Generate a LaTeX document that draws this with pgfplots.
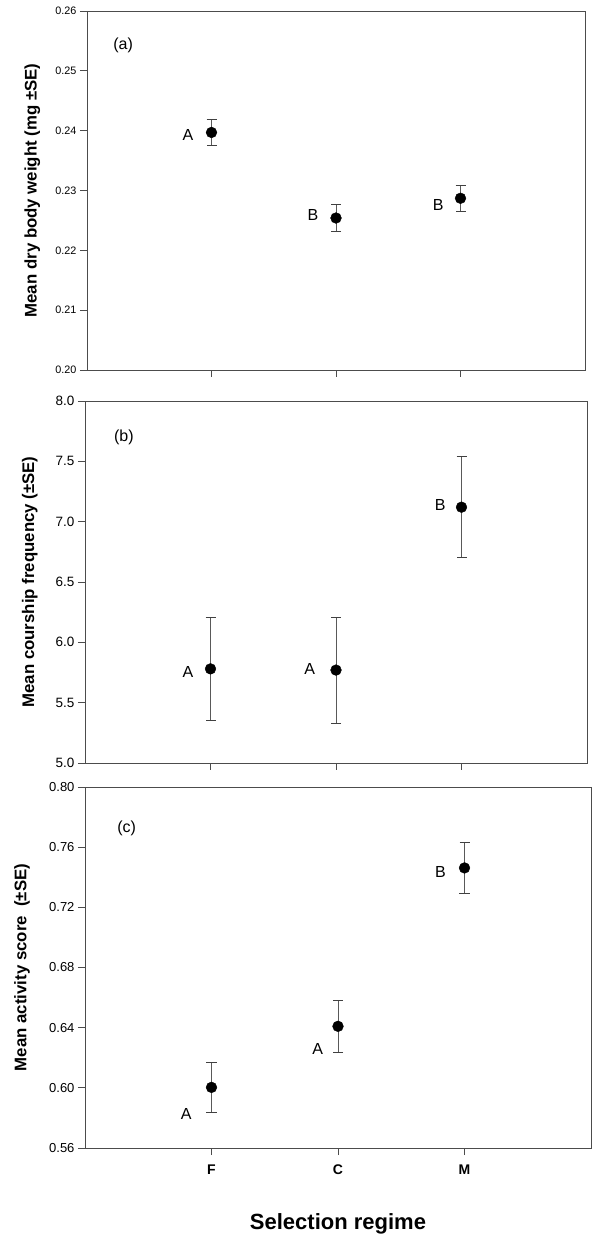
\documentclass[border=0pt]{standalone}
\usepackage{fontspec}
\setmainfont{Liberation Sans}
\usepackage{pgfplots}
\pgfplotsset{compat=1.18}
\usepackage{pgfplotstable}

% mean and SE for each selection regime (F, C, M)
\pgfplotstableread{
x y e
1 0.2397 0.0022
2 0.2254 0.0022
3 0.2287 0.0022
}\weight
\pgfplotstableread{
x y e
1 5.78 0.43
2 5.77 0.44
3 7.12 0.42
}\courtship
\pgfplotstableread{
x y e
1 0.6003 0.0168
2 0.6409 0.0173
3 0.7462 0.0172
}\activity

\newcommand{\fs}[1]{\fontsize{#1bp}{#1bp}\selectfont}

\pgfplotsset{
  panel/.style={
    scale only axis, anchor=south west,
    xmin=0, xmax=4, xtick={1,2,3},
    axis line style={black!70, line width=0.8bp},
    tick style={black!70, line width=0.8bp},
    tick align=outside, major tick length=7bp,
    xtick pos=lower, ytick pos=left,
    /pgf/number format/assume math mode=true,
    every axis y label/.style={at={(axis description cs:-0.11,0.5)}, rotate=90, anchor=center, font=\bfseries\fs{16.8}},
  },
  pts/.style={only marks, mark=*, mark size=5.4bp, black,
    error bars/.cd, y dir=both, y explicit,
    error bar style={black!65, line width=0.8bp},
    error mark options={rotate=90, black!75, mark size=5bp, line width=0.8bp}},
}

\begin{document}
\begin{tikzpicture}
\path (0,0) rectangle (600bp,1240bp);

% (a) body weight
\begin{axis}[panel, at={(87bp,870bp)}, width=498bp, height=359bp,
  ymin=0.20, ymax=0.26, ytick={0.20,0.21,...,0.26},
  xticklabels={},
  yticklabel style={font=\fs{10.8}, /pgf/number format/.cd, fixed, fixed zerofill, precision=2},
  ylabel={Mean dry body weight (mg ±SE)}]
\addplot[pts] table[x=x, y=y, y error=e] {\weight};
\node[font=\fs{16}] at (axis cs:0.29,0.2542) {(a)};
\node[font=\fs{16}] at (axis cs:0.81,0.2393) {A};
\node[font=\fs{16}] at (axis cs:1.815,0.2259) {B};
\node[font=\fs{16}] at (axis cs:2.82,0.2276) {B};
\end{axis}

% (b) courtship frequency
\begin{axis}[panel, at={(85bp,477bp)}, width=502bp, height=362bp,
  ymin=5, ymax=8, ytick={5,5.5,...,8},
  xticklabels={},
  yticklabel style={font=\fs{13.5}, /pgf/number format/.cd, fixed, fixed zerofill, precision=1},
  ylabel={Mean courship frequency (±SE)}]
\addplot[pts] table[x=x, y=y, y error=e] {\courtship};
\node[font=\fs{16}] at (axis cs:0.31,7.70) {(b)};
\node[font=\fs{16}] at (axis cs:0.82,5.75) {A};
\node[font=\fs{16}] at (axis cs:1.79,5.78) {A};
\node[font=\fs{16}] at (axis cs:2.83,7.14) {B};
\end{axis}

% (c) activity score
\begin{axis}[panel, at={(85bp,92bp)}, width=506bp, height=361bp,
  ymin=0.56, ymax=0.80, ytick={0.56,0.60,...,0.80},
  xticklabels={F,C,M},
  xticklabel style={font=\bfseries\fs{14}, yshift=-6bp},
  yticklabel style={font=\fs{13}, /pgf/number format/.cd, fixed, fixed zerofill, precision=2},
  every axis y label/.append style={at={(axis description cs:-0.1245,0.5)}},
  ylabel={Mean activity score\ \ (±SE)},
  xlabel={Selection regime},
  xlabel style={at={(axis description cs:0.5,-0.21)}, anchor=center, font=\bfseries\fs{22}}]
\addplot[pts] table[x=x, y=y, y error=e] {\activity};
\node[font=\fs{16}] at (axis cs:0.33,0.7725) {(c)};
\node[font=\fs{16}] at (axis cs:0.80,0.5823) {A};
\node[font=\fs{16}] at (axis cs:1.84,0.6260) {A};
\node[font=\fs{16}] at (axis cs:2.81,0.7438) {B};
\end{axis}

\pgfresetboundingbox
\path (0,0) rectangle (600bp,1240bp);
\end{tikzpicture}
\end{document}
